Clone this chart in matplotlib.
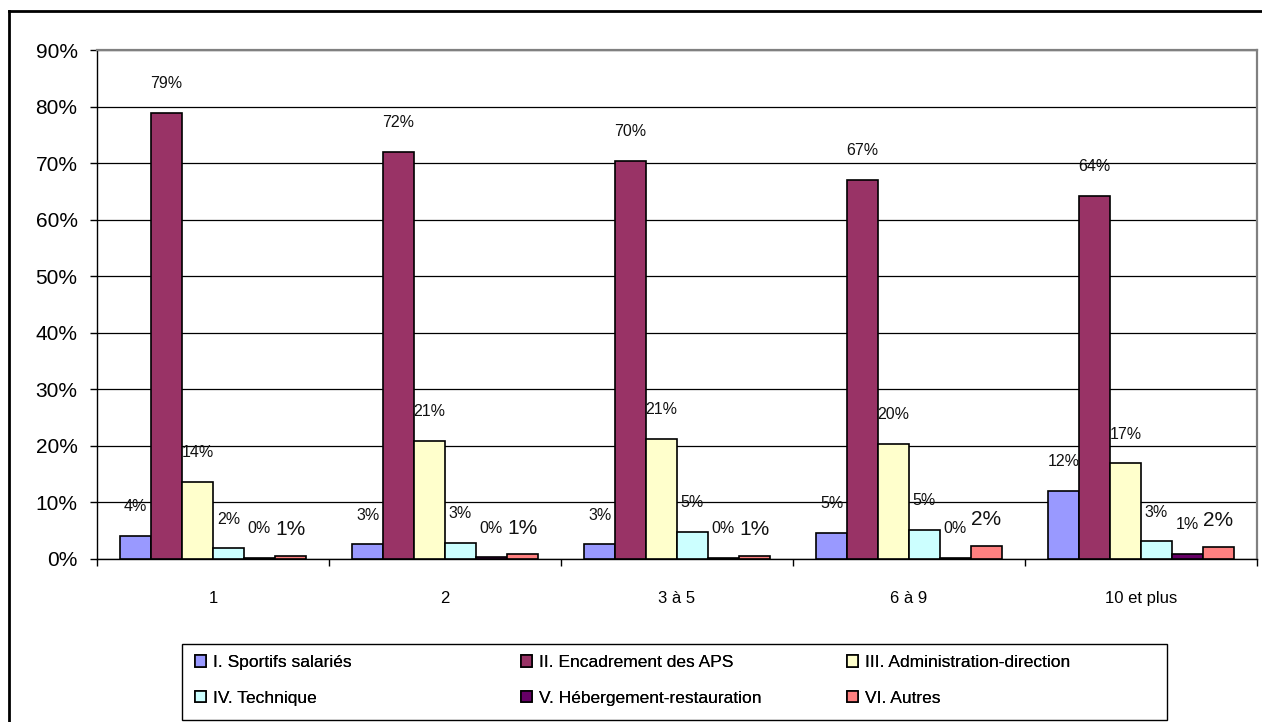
import matplotlib.pyplot as plt
from matplotlib.lines import Line2D
from matplotlib.patches import Rectangle
import numpy as np

plt.switch_backend("Agg")
plt.rcParams['font.family'] = ['Liberation Sans', 'DejaVu Sans']

# Data (percent of staff by category, per size class)
categories = ["1", "2", "3 à 5", "6 à 9", "10 et plus"]
series_names = [
    "I. Sportifs salariés",
    "II. Encadrement des APS",
    "III. Administration-direction",
    "IV. Technique",
    "V. Hébergement-restauration",
    "VI. Autres",
]
sportifs = [4.1, 2.6, 2.6, 4.6, 12.1]
encadrement = [78.9, 72.0, 70.4, 67.1, 64.2]
administration = [13.7, 20.9, 21.2, 20.4, 16.9]
technique = [1.9, 2.9, 4.8, 5.1, 3.1]
hebergement = [0.2, 0.3, 0.2, 0.2, 0.9]
autres = [0.6, 0.8, 0.6, 2.3, 2.2]

values = [sportifs, encadrement, administration, technique, hebergement, autres]
colors = ["#9999FF", "#993366", "#FFFFCC", "#CCFFFF", "#660066", "#FF8080"]

W, H = 1262, 722
fig = plt.figure(figsize=(W / 100, H / 100), dpi=100)
ax = fig.add_axes([97 / W, 1 - 559 / H, (1257 - 97) / W, (559 - 50) / H])

x = np.arange(len(categories))
n = len(values)
bw = 0.8 / n
handles = []
for i, (vals, name, col) in enumerate(zip(values, series_names, colors)):
    pos = x - 0.4 + bw * (i + 0.5)
    bars = ax.bar(pos, vals, width=bw, color=col, edgecolor="black", linewidth=1.2, label=name, zorder=3)
    handles.append(bars)
    fs = 15 if i == n - 1 else 11.5
    for b, v in zip(bars, vals):
        ax.annotate(f"{v:.0f}%", (b.get_x() + b.get_width() / 2, b.get_height()),
                    xytext=(0, 21 if i < n - 1 else 19), textcoords="offset points",
                    ha="center", va="center", fontsize=fs, color="#111111", zorder=4)

ax.set_xlim(-0.5, len(categories) - 0.5)
ax.set_ylim(0, 90)
ax.set_yticks(np.arange(0, 91, 10))
ax.set_yticklabels([f"{t}%" for t in range(0, 91, 10)], fontsize=15)
ax.yaxis.grid(True, color="black", linewidth=0.9)
ax.set_axisbelow(True)

# tick marks at group boundaries, labels at group centres
ax.set_xticks(np.arange(-0.5, len(categories), 1.0))
ax.set_xticklabels([])
ax.set_xticks(x, minor=True)
ax.set_xticklabels(categories, minor=True, fontsize=12)
ax.tick_params(axis="x", which="minor", length=0, pad=23)
ax.tick_params(axis="x", which="major", length=5, width=1, direction="out")
ax.tick_params(axis="y", length=5, width=1, direction="out", pad=9)

for s in ["left", "bottom"]:
    ax.spines[s].set_color("black")
    ax.spines[s].set_linewidth(1)
for s in ["top", "right"]:
    ax.spines[s].set_color("#808080")
    ax.spines[s].set_linewidth(1.6)

# legend: frame plus one column legend per pair, row-wise like the original
fig.add_artist(Rectangle((182 / W, 1 - 720 / H), (1167 - 182) / W, (720 - 644) / H,
                         transform=fig.transFigure, facecolor="white", edgecolor="black", linewidth=1))
col_x = [195, 521, 847]
for c in range(3):
    idx = [c, c + 3]
    leg = fig.legend([handles[k] for k in idx], [series_names[k] for k in idx],
                     loc="upper left", bbox_to_anchor=(col_x[c] / W, 1 - 655 / H),
                     fontsize=12.5, frameon=False, handlelength=0.62, handleheight=0.62,
                     handletextpad=0.4, labelspacing=1.2, borderaxespad=0, borderpad=0)
    fig.add_artist(leg)

# outer chart border (left and top edges visible)
fig.add_artist(Line2D([9 / W, 9 / W], [0, 1 - 11 / H], color="black", linewidth=2, transform=fig.transFigure))
fig.add_artist(Line2D([9 / W, 1], [1 - 11 / H, 1 - 11 / H], color="black", linewidth=2, transform=fig.transFigure))

fig.savefig("out.png", dpi=100)
